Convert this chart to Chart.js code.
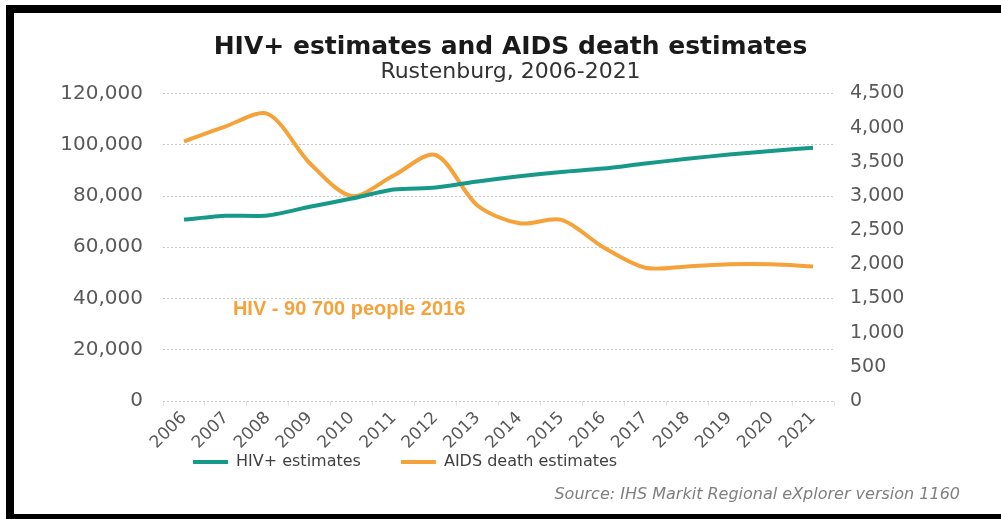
<!DOCTYPE html>
<html>
<head>
<meta charset="utf-8">
<script src="https://cdn.jsdelivr.net/npm/chart.js@4/dist/chart.umd.min.js"></script>
<style>
  html, body { margin: 0; padding: 0; background: #fff; }
  #wrap { position: relative; width: 1001px; height: 519px; overflow: hidden; }
  #frame {
    position: absolute; left: 6px; top: 5px; width: 1100px; height: 514px;
    box-sizing: border-box; border-left: 8px solid #000; border-top: 8px solid #000; border-bottom: 5px solid #000;
  }
  canvas { position: absolute; left: 0; top: 0; }
</style>
</head>
<body>
<div id="wrap">
  <div id="frame"></div>
  <canvas id="chart" width="1001" height="519"></canvas>
</div>
<script>
const years = ["2006", "2007", "2008", "2009", "2010", "2011", "2012", "2013",
  "2014", "2015", "2016", "2017", "2018", "2019", "2020", "2021"];
const hivEstimates = [70800, 72300, 72400, 75800, 79000, 82500, 83300, 85700,
  87700, 89400, 90700, 92700, 94500, 96200, 97600, 98800];
const aidsDeaths = [3800, 4020, 4200, 3480, 3000, 3300, 3600, 2860,
  2600, 2650, 2250, 1950, 1970, 2000, 2000, 1970];

const TEAL = "#17998a";
const ORANGE = "#f5a23a";

Chart.defaults.font.family = "'DejaVu Sans', Verdana, sans-serif";
Chart.defaults.color = "#595959";

// extra text: the orange note and the source line
const notes = {
  id: "notes",
  afterDraw(chart) {
    const ctx = chart.ctx;
    const x = chart.scales.x;
    const y = chart.scales.y;
    ctx.save();
    ctx.fillStyle = ORANGE;
    ctx.font = "bold 20px 'Liberation Sans', Arial, sans-serif";
    ctx.textAlign = "left";
    ctx.textBaseline = "middle";
    ctx.fillText("HIV - 90 700 people 2016", x.getPixelForValue(1) + 7, y.getPixelForValue(35700));

    ctx.fillStyle = "#7f7f7f";
    ctx.font = "italic 16px 'DejaVu Sans', Verdana, sans-serif";
    ctx.textAlign = "right";
    ctx.fillText("Source: IHS Markit Regional eXplorer version 1160", 960, 495);
    ctx.restore();
  }
};

// legend sits left of centre and a bit higher in the original
const legendShift = {
  id: "legendShift",
  afterLayout(chart) {
    const lg = chart.legend;
    lg.left = 153;
    lg.top = 462 - lg.options.labels.padding - 8;
    lg.bottom = lg.top + lg.height;
  }
};

new Chart(document.getElementById("chart"), {
  type: "line",
  data: {
    labels: years,
    datasets: [
      {
        label: "HIV+ estimates",
        data: hivEstimates,
        yAxisID: "y",
        borderColor: TEAL,
        backgroundColor: TEAL,
        borderWidth: 4,
        pointRadius: 0,
        tension: 0.25
      },
      {
        label: "AIDS death estimates",
        data: aidsDeaths,
        yAxisID: "y1",
        borderColor: ORANGE,
        backgroundColor: ORANGE,
        borderWidth: 4,
        pointRadius: 0,
        tension: 0.3
      }
    ]
  },
  options: {
    responsive: false,
    animation: false,
    layout: { padding: { left: 20, right: 0, top: 14, bottom: 0 } },
    plugins: {
      title: {
        display: true,
        text: "HIV+ estimates and AIDS death estimates",
        color: "#1a1a1a",
        font: { size: 25, weight: "bold", lineHeight: 1.1 },
        padding: { top: 20, bottom: 0 }
      },
      subtitle: {
        display: true,
        text: "Rustenburg, 2006-2021",
        color: "#333",
        font: { size: 22, lineHeight: 1.0 },
        padding: { top: 0, bottom: 10 }
      },
      legend: {
        position: "bottom",
        align: "start",
        labels: {
          color: "#404040",
          font: { size: 16 },
          usePointStyle: true,
          pointStyle: "line",
          pointStyleWidth: 35,
          padding: 40
        }
      },
      tooltip: { enabled: false }
    },
    scales: {
      x: {
        offset: true,
        border: { display: false },
        grid: { display: true, drawOnChartArea: false, tickLength: 5, color: "#e3e3e3", offset: true },
        ticks: { maxRotation: 45, minRotation: 45, padding: 2, font: { size: 17 } },
        afterFit(s) { s.height = 52; }
      },
      y: {
        position: "left",
        min: 0,
        max: 120000,
        border: { display: false, dash: [2, 2] },
        grid: { color: "#c8c8c8", drawTicks: false, lineWidth: 1 },
        ticks: { stepSize: 20000, padding: 20, font: { size: 20 } },
        afterFit(s) { s.width = 143; }
      },
      y1: {
        position: "right",
        min: 0,
        max: 4500,
        border: { display: false },
        grid: { display: false, drawTicks: false },
        ticks: { stepSize: 500, padding: 16, font: { size: 19 } },
        afterFit(s) { s.width = 167; }
      }
    }
  },
  plugins: [notes, legendShift]
});
</script>
</body>
</html>
